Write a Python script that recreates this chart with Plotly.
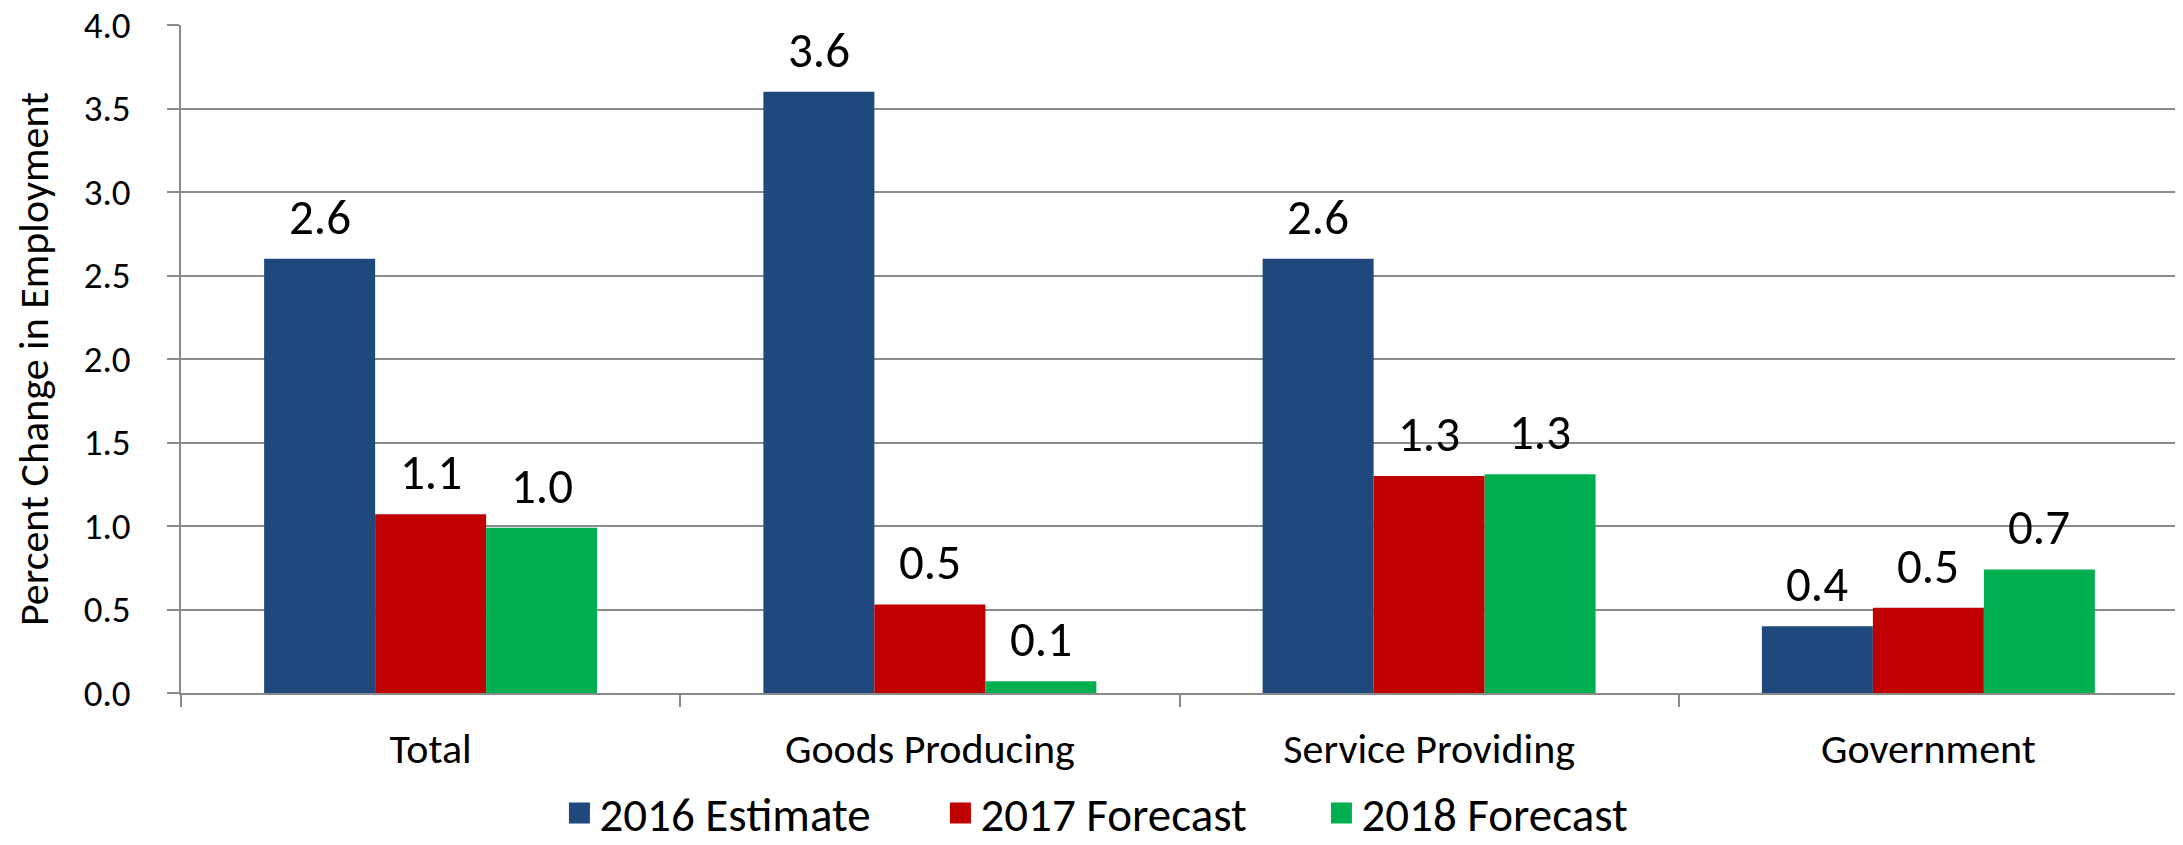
import plotly.graph_objects as go

categories = ["Total", "Goods Producing", "Service Providing", "Government"]
series_names = ["2016 Estimate", "2017 Forecast", "2018 Forecast"]
est_2016 = [2.6, 3.6, 2.6, 0.4]
fc_2017 = [1.07, 0.53, 1.3, 0.51]
fc_2018 = [0.99, 0.07, 1.31, 0.74]
colors = ["#1F497D", "#C00000", "#00B050"]
y_ticks = [0.0, 0.5, 1.0, 1.5, 2.0, 2.5, 3.0, 3.5, 4.0]

FONT = "Calibri, Carlito, Lato, 'Open Sans', sans-serif"
W, H = 2183, 845
ML, MR, MT, MB = 173, 13, 17, 160
BARGAP = 0.333

fig = go.Figure()
all_series = [est_2016, fc_2017, fc_2018]
for name, vals, col in zip(series_names, all_series, colors):
    fig.add_trace(go.Bar(
        x=categories, y=vals, name=name,
        marker=dict(color=col, line=dict(width=0)),
        showlegend=False,
    ))
    # legend entry with a larger square swatch
    fig.add_trace(go.Scatter(
        x=[None], y=[None], name=name, mode="markers",
        marker=dict(symbol="square", size=16, color=col, line=dict(color=col, width=5)),
        showlegend=True,
    ))

# data labels above each bar
plot_w = W - ML - MR
cat_w = plot_w / len(categories)
bar_w = cat_w * (1 - BARGAP) / len(all_series)
for i, vals in enumerate(all_series):
    for c, v in zip(categories, vals):
        fig.add_annotation(
            x=c, y=v, text=f"{v:.1f}", showarrow=False,
            xshift=(i - 1) * bar_w, yshift=10, yanchor="bottom",
            font=dict(size=49, color="black", family=FONT),
        )

plot_h = H - MT - MB
fig.update_layout(
    width=W, height=H,
    barmode="group", bargap=BARGAP, bargroupgap=0,
    plot_bgcolor="white", paper_bgcolor="white",
    font=dict(family=FONT, size=40, color="black"),
    margin=dict(l=ML, r=MR, t=MT, b=MB, autoexpand=False),
    showlegend=True,
    legend=dict(orientation="h", x=0.1895, xanchor="left",
                y=-(MB - 2) / plot_h, yanchor="bottom",
                font=dict(size=47), entrywidth=336, entrywidthmode="pixels",
                itemwidth=30, tracegroupgap=0),
    xaxis=dict(
        showline=True, linecolor="#8a8a8a", linewidth=2,
        ticks="outside", tickson="boundaries", ticklen=12, tickcolor="#8a8a8a", tickwidth=2,
        tickfont=dict(size=42), ticklabelstandoff=18,
        showgrid=False, automargin=False,
    ),
    yaxis=dict(
        range=[0, 4.0], tickvals=y_ticks, ticktext=[f"{v:.1f}" for v in y_ticks],
        showline=True, linecolor="#8a8a8a", linewidth=2,
        showgrid=True, gridcolor="#8a8a8a", gridwidth=2,
        ticks="outside", ticklen=12, tickcolor="#8a8a8a", tickwidth=2,
        tickfont=dict(size=37), ticklabelstandoff=29, ticklabeloverflow="allow",
        title=dict(text="Percent Change in Employment", font=dict(size=42), standoff=22),
        zeroline=False, automargin=False,
    ),
)

fig.write_html("out.html")
